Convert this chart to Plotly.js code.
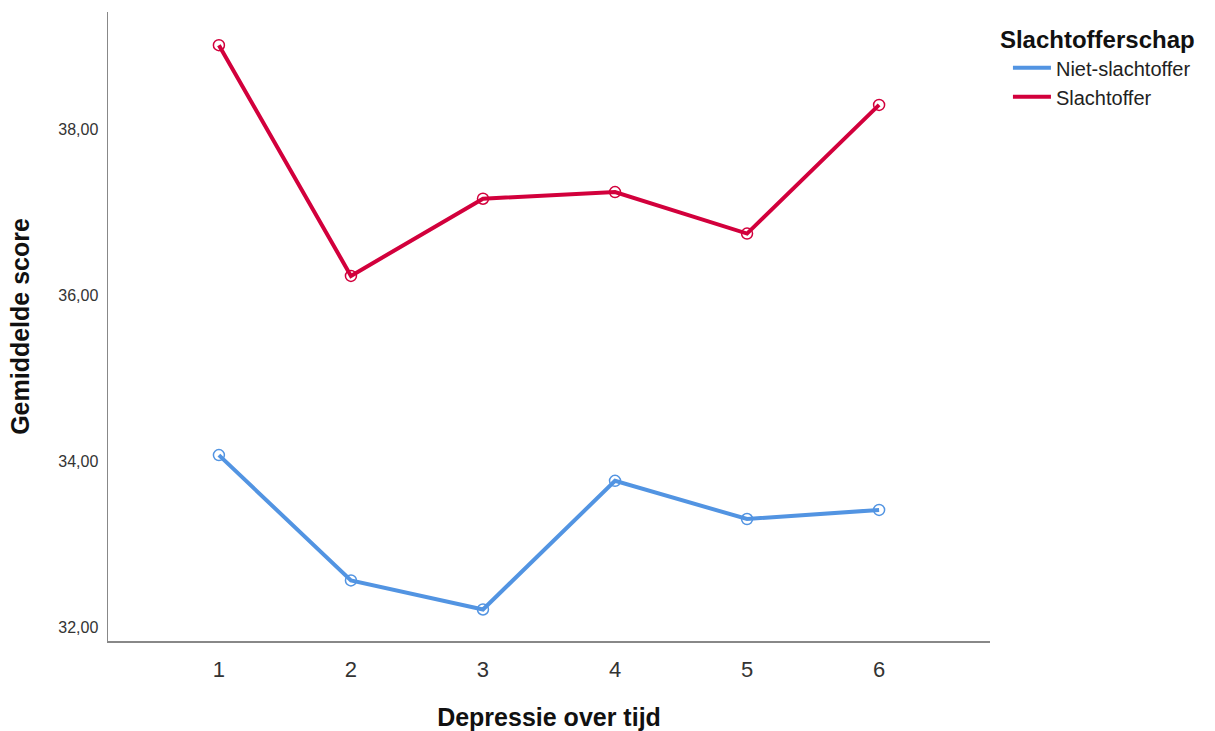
<!DOCTYPE html>
<html>
<head>
<meta charset="utf-8">
<script src="https://cdn.plot.ly/plotly-3.0.1.min.js"></script>
<style>html,body{margin:0;padding:0;background:#fff;}#chart{width:1215px;height:731px;}</style>
</head>
<body>
<div id="chart"></div>
<script>
const timepoints = [1, 2, 3, 4, 5, 6];
const nietSlachtoffer = [34.08, 32.57, 32.22, 33.77, 33.31, 33.42];
const slachtoffer = [39.02, 36.24, 37.17, 37.25, 36.75, 38.30];
const seriesNames = ["Niet-slachtoffer", "Slachtoffer"];
const yTickVals = [32, 34, 36, 38];
const yTickText = ["32,00", "34,00", "36,00", "38,00"];
const xTickText = ["1", "2", "3", "4", "5", "6"];

const FONT = "Liberation Sans, Arial, sans-serif";
const BLUE = "#5294e2", RED = "#d2003c";
const traces = [
  {x: timepoints, y: nietSlachtoffer, name: seriesNames[0], type: "scatter", mode: "lines+markers", showlegend: false,
   line: {color: BLUE, width: 4}, marker: {symbol: "circle-open", size: 11, color: BLUE, line: {width: 1.5}}},
  {x: timepoints, y: slachtoffer, name: seriesNames[1], type: "scatter", mode: "lines+markers", showlegend: false,
   line: {color: RED, width: 4}, marker: {symbol: "circle-open", size: 11, color: RED, line: {width: 1.5}}},
  {x: [null], y: [null], name: seriesNames[0], type: "scatter", mode: "lines", line: {color: BLUE, width: 4}},
  {x: [null], y: [null], name: seriesNames[1], type: "scatter", mode: "lines", line: {color: RED, width: 4}}
];
const layout = {
  width: 1215, height: 731,
  margin: {l: 108, r: 225, t: 12, b: 90},
  paper_bgcolor: "#fff", plot_bgcolor: "#fff",
  font: {family: FONT, color: "#222"},
  showlegend: true,
  legend: {
    x: 1.009, xanchor: "left", y: 0.992, yanchor: "top",
    title: {text: "<b>Slachtofferschap</b>", font: {size: 24, color: "#111", family: FONT}},
    font: {size: 20, color: "#222", family: FONT},
    itemwidth: 38, tracegroupgap: 0, indentation: 10
  },
  xaxis: {
    range: [0.16, 6.84], tickvals: timepoints, ticktext: xTickText,
    showline: true, linecolor: "#888", linewidth: 1.5, showgrid: false, zeroline: false,
    ticks: "outside", ticklen: 8, tickcolor: "rgba(0,0,0,0)", tickfont: {size: 22, color: "#333"},
    title: {text: "<b>Depressie over tijd</b>", font: {size: 25, color: "#111"}, standoff: 27}
  },
  yaxis: {
    range: [31.84, 39.42], tickvals: yTickVals, ticktext: yTickText,
    showline: true, linecolor: "#888", linewidth: 1.5, showgrid: false, zeroline: false,
    ticks: "outside", ticklen: 5, tickcolor: "rgba(0,0,0,0)", tickfont: {size: 16, color: "#333"},
    title: {text: "<b>Gemiddelde score</b>", font: {size: 25, color: "#111"}, standoff: 21}
  }
};
Plotly.newPlot("chart", traces, layout, {displayModeBar: false, staticPlot: true});
</script>
</body>
</html>
